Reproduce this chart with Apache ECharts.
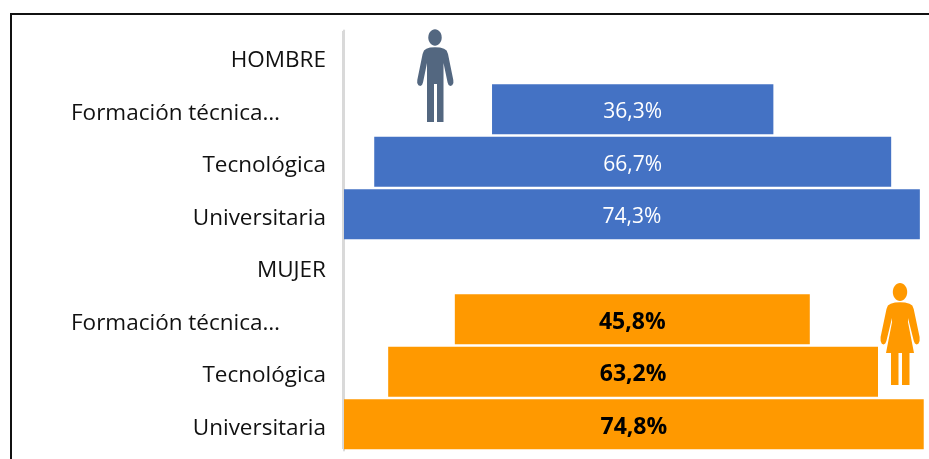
<!DOCTYPE html>
<html><head><meta charset="utf-8">
<style>html,body{margin:0;padding:0;background:#fff}#c{width:929px;height:459px}</style>
<script src="https://cdn.jsdelivr.net/npm/echarts@6/dist/echarts.min.js"></script>
</head><body><div id="c"></div>
<script>
const categories = ['HOMBRE','Formación técnica…','Tecnológica','Universitaria','MUJER','Formación técnica… ','Tecnológica ','Universitaria '];
const spacers = [0,19.1,3.9,0,0,14.3,5.7,0];
const hombre = [null,36.3,66.7,74.3,null,null,null,null];
const mujer = [null,null,null,null,null,45.8,63.2,74.8];
const FONT = '"Open Sans","Noto Sans",sans-serif';
const fmt = p => p.value == null ? '' : p.value.toFixed(1).replace('.',',') + '%';
const chart = echarts.init(document.getElementById('c'), null, {renderer:'canvas'});
const manPts = [[430,47.6],[435,47.2],[440,47.6],[444,48.8],[446.6,50.6],[448,54],[453.3,80],[453.4,83],[452.2,85.2],[450.3,85.9],[448.6,85],[447.6,82.5],[443.5,63],[443.5,122],[437,122],[437,84],[434,84],[434,122],[427,122],[427,63],[423,82.5],[422,85],[420.3,85.9],[418.4,85.2],[417.2,83],[417.3,80],[422.6,54],[424,50.6],[426.4,48.8]];
const womanPts = [[895,302.6],[900,302.3],[905,302.6],[909.5,303.8],[912.3,305.6],[913.7,309],[919.6,337],[919.6,341],[918.4,343.8],[916.6,344.6],[914.9,343.6],[913.8,341],[908,318],[908,322],[914,353],[909.5,353],[909.5,385],[902,385],[902,353],[898.5,353],[898.5,385],[891,385],[891,353],[886,353],[892,322],[892,318],[886.4,341],[885.3,343.6],[883.6,344.6],[881.8,343.8],[880.6,341],[880.6,337],[886.5,309],[887.9,305.6],[890.7,303.8]];
chart.setOption({
  animation:false,
  backgroundColor:'#fff',
  textStyle:{fontFamily:FONT},
  grid:{left:344,top:30.5,width:585,height:420,containLabel:false},
  xAxis:{type:'value',min:0,max:75.48,show:false,splitLine:{show:false}},
  yAxis:{type:'category',inverse:true,data:categories,offset:1,
    axisLine:{show:true,lineStyle:{color:'#D9D9D9',width:2}},
    axisTick:{show:false},
    axisLabel:{margin:17,fontFamily:FONT,fontSize:22.5,color:'#111',
      padding:[8,0,0,0],
      formatter:v=>v.startsWith('Formación')?'{f|'+v.trim()+'}':v.trim(),
      rich:{f:{fontFamily:FONT,fontSize:22.5,color:'#111',padding:[0,46,0,0]}}}
  },
  series:[
    {name:'spacer',type:'bar',stack:'t',data:spacers,silent:true,itemStyle:{color:'rgba(0,0,0,0)'},barWidth:50},
    {name:'Hombre',type:'bar',stack:'t',data:hombre,barWidth:50,itemStyle:{color:'#4472C4'},
      label:{show:true,position:'inside',offset:[0,3],formatter:fmt,color:'#fff',fontFamily:FONT,fontSize:21}},
    {name:'Mujer',type:'bar',stack:'t',data:mujer,barWidth:50,itemStyle:{color:'#FF9900'},
      label:{show:true,position:'inside',offset:[0,3],formatter:fmt,color:'#000',fontWeight:'bold',fontFamily:FONT,fontSize:23}}
  ],
  graphic:[
    {type:'polyline',shape:{points:[[11,459],[11,14],[929,14]]},style:{stroke:'#111',lineWidth:2,fill:null}},
    {type:'line',shape:{x1:343,y1:31,x2:343,y2:449},style:{stroke:'#D9D9D9',lineWidth:2}},
    {type:'ellipse',shape:{cx:435,cy:37.5,rx:6.7,ry:8.2},style:{fill:'#536780'}},
    {type:'polygon',shape:{points:manPts},style:{fill:'#536780'}},
    {type:'ellipse',shape:{cx:900,cy:292,rx:7.2,ry:9},style:{fill:'#FF9900'}},
    {type:'polygon',shape:{points:womanPts},style:{fill:'#FF9900'}}
  ]
});
</script></body></html>
